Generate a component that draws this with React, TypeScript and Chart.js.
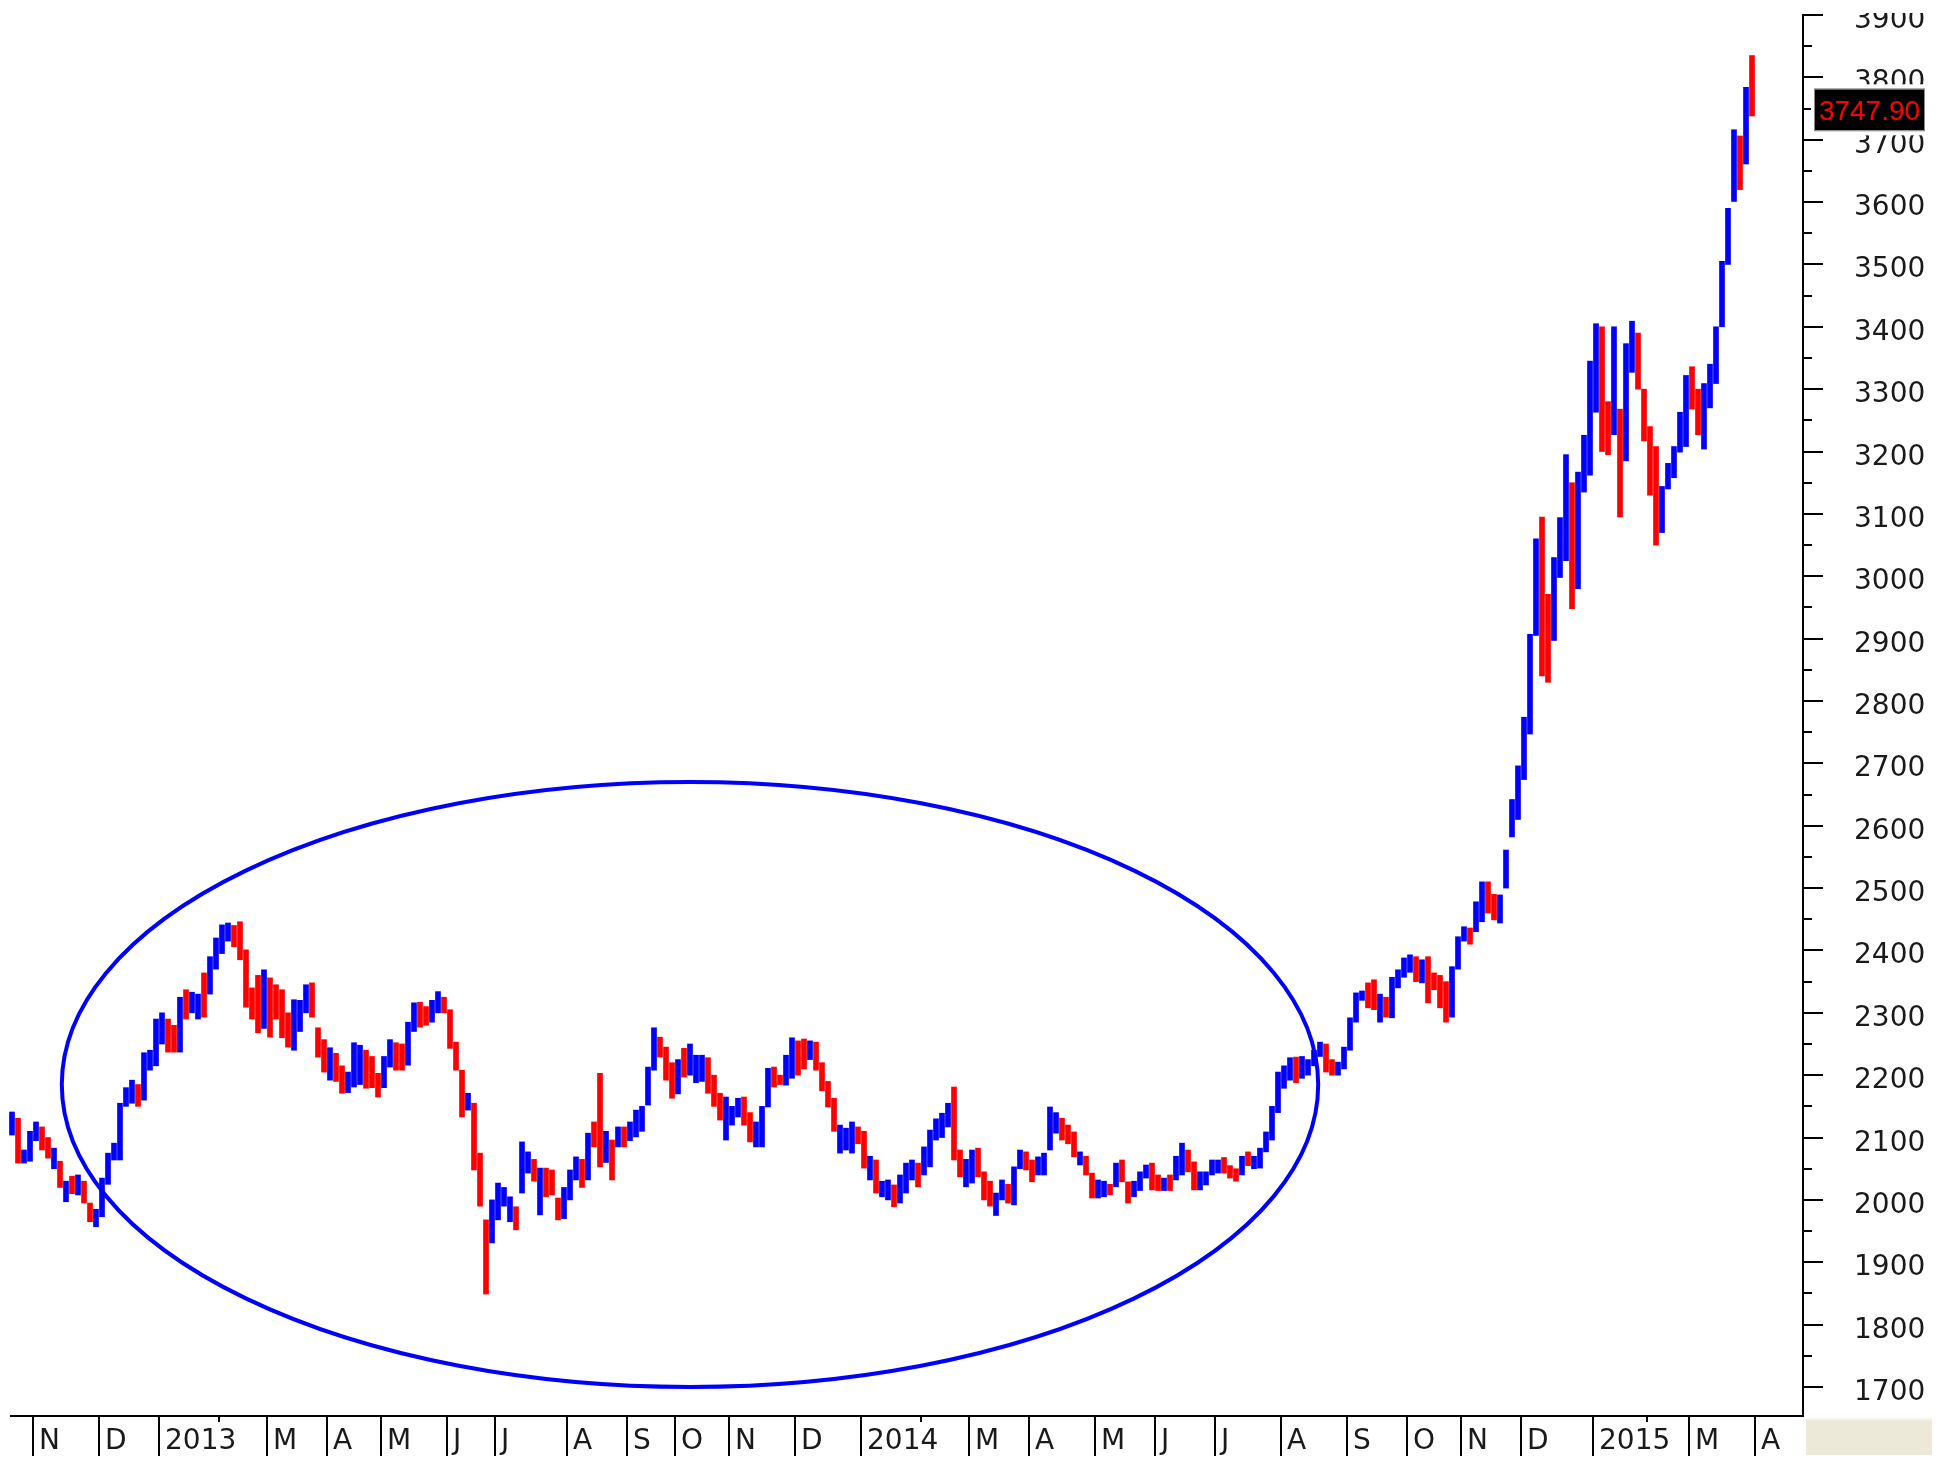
import React, { useEffect, useRef } from 'react';
import { Chart, registerables } from 'chart.js';

Chart.register(...registerables);

// Two-session bars, Shanghai Composite, late Oct 2012 – 31 Mar 2015
const highs: number[] = [
  2141, 2131, 2080, 2110, 2125, 2117, 2100, 2083, 2062, 2030, 2038, 2040, 2030, 1995, 1985,
  2035, 2075, 2091, 2155, 2180, 2192, 2185, 2236, 2240, 2290,
  2300, 2290, 2280, 2325, 2337, 2333, 2330, 2364, 2390, 2420,
  2441, 2444, 2440, 2446, 2401, 2340, 2360, 2369,
  2356, 2345, 2337, 2300, 2321, 2320, 2345, 2348, 2276, 2257,
  2244, 2235, 2215, 2205, 2252, 2248, 2240, 2230, 2203,
  2230, 2257, 2252, 2250, 2285, 2316, 2317, 2310, 2320, 2334, 2325,
  2305, 2253, 2208, 2171, 2155, 2075, 1968, 2000,
  2027, 2020, 2005, 1989, 2093, 2077, 2065, 2051, 2051, 2048, 2003, 2020,
  2048, 2069, 2065, 2107, 2125, 2203, 2110, 2096, 2117, 2117,
  2125, 2144, 2150, 2213, 2276, 2261, 2245, 2220,
  2225, 2243, 2250, 2232, 2232, 2228, 2200, 2171, 2165,
  2150, 2163, 2165, 2140, 2125, 2150, 2211, 2213, 2200, 2232, 2260,
  2255, 2258, 2255, 2253, 2220, 2190, 2163, 2120, 2115, 2125, 2117,
  2110, 2070, 2064, 2030, 2032, 2024, 2040, 2059, 2064, 2059,
  2085, 2112, 2130, 2139, 2155, 2181, 2080, 2065,
  2080, 2083, 2045, 2030, 2011, 2032, 2025, 2053, 2080, 2077,
  2064, 2069, 2075, 2149, 2140, 2131, 2120, 2109, 2077, 2070, 2043,
  2032, 2030, 2025, 2059, 2064, 2029, 2030, 2045, 2056, 2059,
  2040, 2035, 2040, 2070, 2091, 2080, 2061, 2045, 2045, 2064,
  2064, 2068, 2055, 2050, 2070, 2077, 2070, 2083, 2109, 2150, 2205,
  2215, 2228, 2229, 2230, 2225, 2240, 2253, 2250, 2225, 2221, 2245,
  2292, 2332, 2335, 2348, 2353, 2330, 2325, 2357, 2369, 2388,
  2393, 2390, 2385, 2390, 2364, 2360, 2350, 2374, 2422,
  2438, 2436, 2478, 2510, 2510, 2490, 2489, 2561, 2642, 2696,
  2774, 2907, 3060, 3095, 2971, 3030, 3094, 3195, 3150, 3167, 3226, 3345,
  3405, 3400, 3280, 3400, 3268, 3373, 3409, 3390, 3300,
  3240, 3208, 3144, 3181, 3208, 3263, 3322,
  3336, 3300, 3309, 3340, 3400, 3505, 3590, 3716, 3706, 3784, 3835,
];

const lows: number[] = [
  2104, 2059, 2059, 2062, 2095, 2080, 2067, 2050, 2020, 1997, 2010, 2008, 1995, 1965, 1957,
  1973, 2025, 2064, 2064, 2150, 2155, 2150, 2160, 2208, 2215,
  2250, 2237, 2237, 2237, 2290, 2300, 2290, 2293, 2330, 2370,
  2395, 2415, 2406, 2385, 2309, 2290, 2268, 2275,
  2261, 2290, 2260, 2245, 2240, 2270, 2300, 2293, 2229, 2205,
  2192, 2190, 2171, 2172, 2181, 2185, 2179, 2180, 2165,
  2180, 2213, 2208, 2208, 2216, 2270, 2277, 2280, 2285, 2300, 2300,
  2243, 2208, 2133, 2144, 2048, 1990, 1849, 1931,
  1968, 1990, 1965, 1952, 2011, 2043, 2030, 1976, 2005, 2008, 1968, 1970,
  2000, 2032, 2020, 2032, 2085, 2053, 2060, 2032, 2085, 2085,
  2095, 2101, 2110, 2152, 2208, 2229, 2192, 2163,
  2170, 2197, 2200, 2188, 2190, 2171, 2150, 2128, 2096,
  2120, 2133, 2120, 2093, 2085, 2085, 2149, 2181, 2185, 2184, 2195,
  2200, 2210, 2225, 2208, 2175, 2149, 2110, 2075, 2080, 2075, 2090,
  2051, 2032, 2011, 2005, 2000, 1989, 1995, 2011, 2032, 2021,
  2040, 2053, 2096, 2100, 2117, 2064, 2037, 2021,
  2027, 2037, 2000, 1990, 1975, 2000, 1995, 1992, 2050, 2048,
  2029, 2040, 2040, 2080, 2107, 2096, 2090, 2069, 2056, 2040, 2003,
  2003, 2005, 2008, 2021, 2029, 1995, 2005, 2015, 2035, 2016,
  2015, 2015, 2015, 2032, 2040, 2045, 2016, 2016, 2024, 2040,
  2043, 2043, 2035, 2030, 2040, 2055, 2050, 2051, 2077, 2096, 2140,
  2179, 2192, 2188, 2195, 2200, 2215, 2230, 2205, 2200, 2200, 2210,
  2240, 2285, 2320, 2308, 2305, 2285, 2293, 2292, 2340, 2357,
  2365, 2350, 2348, 2316, 2337, 2308, 2285, 2293, 2370,
  2415, 2410, 2430, 2446, 2460, 2449, 2444, 2500, 2582, 2610,
  2674, 2747, 2905, 2840, 2830, 2897, 2998, 3025, 2948, 2980, 3135, 3162,
  3263, 3200, 3195, 3227, 3095, 3185, 3327, 3300, 3217,
  3130, 3050, 3070, 3140, 3158, 3199, 3208,
  3268, 3227, 3204, 3270, 3309, 3400, 3500, 3601, 3620, 3661, 3738,
];

// 1 = closed above open (blue), 0 = closed below open (red)
const upBars: number[] = [
  1, 0, 1, 1, 1, 0, 0, 1, 0, 1, 0, 1, 0, 0, 1,
  1, 1, 1, 1, 1, 1, 0, 1, 1, 1,
  1, 0, 0, 1, 0, 1, 1, 0, 1, 1,
  1, 1, 0, 0, 0, 0, 0, 1,
  0, 0, 0, 0, 1, 1, 1, 0, 0, 0,
  1, 0, 0, 1, 1, 1, 0, 0, 0,
  1, 1, 0, 0, 1, 1, 0, 0, 1, 1, 0,
  0, 0, 0, 1, 0, 0, 0, 1,
  1, 1, 1, 0, 1, 1, 0, 1, 0, 0, 0, 1,
  1, 1, 0, 1, 0, 0, 1, 0, 1, 0,
  1, 1, 1, 1, 1, 0, 0, 0,
  1, 0, 1, 1, 1, 0, 0, 0, 1,
  1, 1, 0, 0, 1, 1, 1, 0, 0, 1, 1,
  0, 0, 1, 0, 0, 0, 0, 1, 1, 1, 0,
  0, 1, 0, 1, 1, 0, 1, 1, 1, 0,
  1, 1, 1, 1, 1, 0, 0, 1,
  1, 0, 0, 0, 1, 1, 0, 1, 1, 0,
  0, 1, 1, 1, 1, 0, 0, 0, 1, 0, 0,
  1, 1, 0, 1, 0, 0, 1, 1, 1, 0,
  0, 1, 0, 1, 1, 0, 0, 1, 1, 1,
  1, 0, 0, 0, 1, 0, 1, 1, 1, 1, 1,
  1, 1, 0, 1, 1, 1, 1, 0, 0, 1, 1,
  1, 1, 1, 0, 0, 1, 0, 1, 1, 1,
  1, 0, 1, 0, 0, 0, 0, 1, 1,
  1, 0, 1, 1, 0, 0, 1, 1, 1, 1,
  1, 1, 1, 0, 0, 1, 1, 1, 0, 1, 1, 1,
  1, 0, 0, 1, 0, 1, 1, 0, 0,
  0, 0, 1, 1, 1, 1, 1,
  0, 0, 1, 1, 1, 1, 1, 1, 0, 1, 0,
];

const monthLabels: string[] = [
  'N', 'D', '2013', 'M', 'A', 'M', 'J', 'J', 'A', 'S', 'O', 'N', 'D',
  '2014', 'M', 'A', 'M', 'J', 'J', 'A', 'S', 'O', 'N', 'D', '2015', 'M', 'A',
];
const monthStarts: number[] = [
  4, 15, 25, 43, 53, 62, 73, 81, 93, 103, 111, 120, 131,
  142, 160, 170, 181, 191, 201, 212, 223, 233, 242, 252, 264, 280, 291,
];
const febStarts: number[] = [35, 152, 273];

const yTickValues: number[] = [
  1700, 1800, 1900, 2000, 2100, 2200, 2300, 2400, 2500, 2600, 2700,
  2800, 2900, 3000, 3100, 3200, 3300, 3400, 3500, 3600, 3700, 3800, 3900,
];
const lastClose = 3747.9;

// hand-drawn ellipse annotation, in data units (bar index / index value)
const ellipseLeft = 8.3;
const ellipseRight = 217.7;
const ellipseTop = 2670;
const ellipseBottom = 1700;

const BLUE = '#0000ff';
const RED = '#ff0000';
const TEXT_FONT = '28px "DejaVu Sans"';

const decorPlugin = {
  id: 'decor',
  afterDatasetsDraw(chart: any) {
    const ctx = chart.ctx as CanvasRenderingContext2D;
    const xs = chart.scales.x;
    const ys = chart.scales.y;
    const x1 = xs.getPixelForValue(ellipseLeft);
    const x2 = xs.getPixelForValue(ellipseRight);
    const y1 = ys.getPixelForValue(ellipseTop);
    const y2 = ys.getPixelForValue(ellipseBottom);
    ctx.save();
    ctx.beginPath();
    ctx.ellipse((x1 + x2) / 2, (y1 + y2) / 2, (x2 - x1) / 2, (y2 - y1) / 2, 0, 0, Math.PI * 2);
    ctx.strokeStyle = BLUE;
    ctx.lineWidth = 4;
    ctx.stroke();
    ctx.restore();
  },
  afterDraw(chart: any) {
    const ctx = chart.ctx as CanvasRenderingContext2D;
    const xs = chart.scales.x;
    const ys = chart.scales.y;
    const area = chart.chartArea;
    const axisX = area.right;
    const axisY = area.bottom;
    ctx.save();
    ctx.strokeStyle = '#000';
    ctx.fillStyle = '#1a1a1a';
    ctx.lineWidth = 2;

    // right value axis
    const topY = ys.getPixelForValue(3900);
    ctx.beginPath();
    ctx.moveTo(axisX, topY - 1);
    ctx.lineTo(axisX, axisY + 1);
    ctx.stroke();
    for (let v = 1700; v <= 3900; v += 50) {
      const py = Math.round(ys.getPixelForValue(v));
      const major = v % 100 === 0;
      ctx.beginPath();
      ctx.moveTo(axisX, py);
      ctx.lineTo(axisX + (major ? 20 : 9), py);
      ctx.stroke();
    }
    ctx.font = TEXT_FONT;
    ctx.textAlign = 'left';
    ctx.textBaseline = 'alphabetic';
    yTickValues.forEach((v) => {
      const py = ys.getPixelForValue(v);
      ctx.fillText(String(v), axisX + 51, py + 13);
    });
    // top of the plot window clips the topmost label
    ctx.fillStyle = '#ffffff';
    ctx.fillRect(axisX + 3, 0, 200, 13);

    // bottom time axis
    ctx.strokeStyle = '#000';
    ctx.beginPath();
    ctx.moveTo(10, axisY);
    ctx.lineTo(axisX + 1, axisY);
    ctx.stroke();
    ctx.fillStyle = '#1a1a1a';
    monthStarts.forEach((idx, k) => {
      const px = Math.round(xs.getPixelForValue(idx - 0.5));
      ctx.beginPath();
      ctx.moveTo(px, axisY);
      ctx.lineTo(px, axisY + 40);
      ctx.stroke();
      ctx.fillText(monthLabels[k], px + 6, axisY + 33);
    });
    febStarts.forEach((idx) => {
      const px = Math.round(xs.getPixelForValue(idx - 0.5));
      ctx.beginPath();
      ctx.moveTo(px, axisY);
      ctx.lineTo(px, axisY + 6);
      ctx.stroke();
    });

    // corner panel
    ctx.fillStyle = '#ece9d8';
    ctx.fillRect(axisX + 3, axisY + 2, 126, 37);
    ctx.fillStyle = '#f6f4ec';
    ctx.fillRect(axisX + 3, axisY + 2, 126, 2);

    // last price marker
    const cy = ys.getPixelForValue(lastClose);
    const bx = axisX + 12;
    const bw = 109;
    const bh = 41;
    ctx.fillStyle = '#ffffff';
    ctx.fillRect(bx - 4, cy - bh / 2 - 5, bw + 8, bh + 10);
    ctx.fillStyle = '#000';
    ctx.fillRect(bx, cy - bh / 2, bw, bh);
    ctx.strokeStyle = '#8a8a8a';
    ctx.lineWidth = 1;
    ctx.strokeRect(bx - 0.5, cy - bh / 2 - 0.5, bw + 1, bh + 1);
    ctx.fillStyle = RED;
    ctx.font = '28px "Liberation Sans"';
    ctx.textAlign = 'center';
    ctx.fillText(lastClose.toFixed(2), bx + bw / 2, cy + 10);
    ctx.restore();
  },
};

export default function App() {
  const canvasRef = useRef<HTMLCanvasElement | null>(null);

  useEffect(() => {
    const canvas = canvasRef.current;
    if (!canvas) return;
    const data = highs.map((h, i) => ({ x: i, y: [lows[i], h] }));
    const chart = new Chart(canvas, {
      type: 'bar',
      data: {
        datasets: [
          {
            data: data as any,
            backgroundColor: upBars.map((u) => (u ? BLUE : RED)),
            borderWidth: 0,
            barThickness: 5,
          },
        ],
      },
      options: {
        responsive: false,
        animation: false,
        events: [],
        layout: { padding: { left: 0, right: 141, top: 5, bottom: 53 } },
        plugins: { legend: { display: false }, tooltip: { enabled: false } },
        scales: {
          x: { type: 'linear', min: -2, max: 298.5, display: false, offset: false },
          y: { type: 'linear', min: 1653.5, max: 3916, display: false },
        },
      },
      plugins: [decorPlugin],
    });
    return () => chart.destroy();
  }, []);

  return (
    <div style={{ width: 1944, height: 1469, background: '#ffffff' }}>
      <style>{'body{margin:0;}'}</style>
      <canvas ref={canvasRef} width={1944} height={1469} style={{ display: 'block' }} />
    </div>
  );
}
